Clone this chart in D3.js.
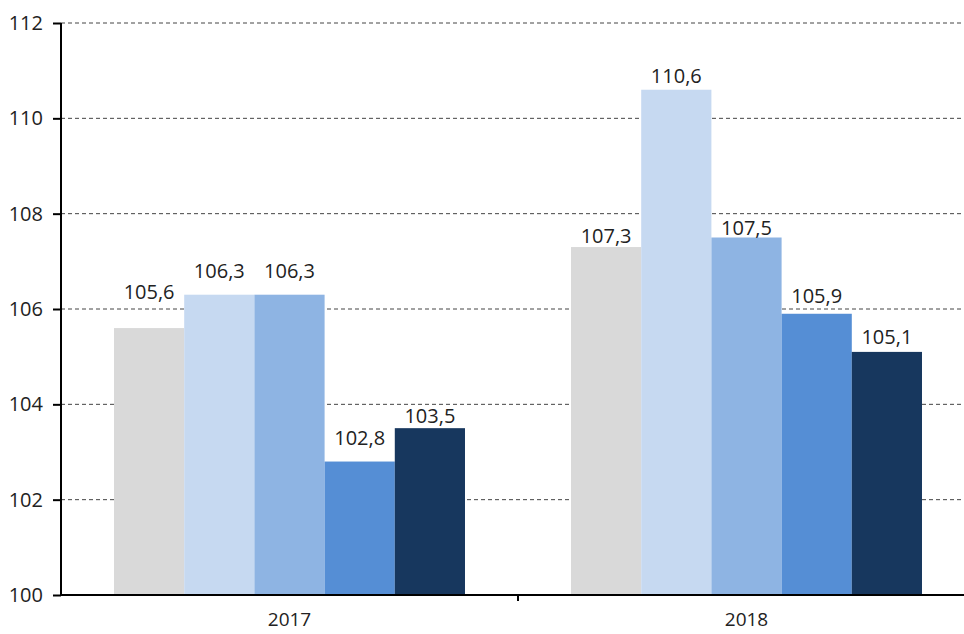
<!DOCTYPE html>
<html>
<head>
<meta charset="utf-8">
<script src="https://cdn.jsdelivr.net/npm/d3@7"></script>
<style>
  body { margin: 0; background: #fff; }
  text { font-family: "Open Sans", sans-serif; fill: #222; }
</style>
</head>
<body>
<div id="chart"></div>
<script>
const width = 964;
const height = 634;
const margin = { top: 23, right: -11, bottom: 39, left: 61 };

const years = ["2017", "2018"];
const series = ["s1", "s2", "s3", "s4", "s5"];
const values2017 = [105.6, 106.3, 106.3, 102.8, 103.5];
const values2018 = [107.3, 110.6, 107.5, 105.9, 105.1];
const yTicks = [100, 102, 104, 106, 108, 110, 112];
const colors = ["#d9d9d9", "#c6d9f1", "#8eb4e3", "#558ed5", "#17375e"];

// gap between bar top and label baseline, the labels were placed by hand
const labelGap = [
    [29, 17, 17, 17, 5],
    [4, 7, 3, 11, 8]
];

const rows = years.map((y, i) => ({ year: y, values: [values2017, values2018][i] }));

const innerW = width - margin.left - margin.right;
const innerH = height - margin.top - margin.bottom;

const svg = d3.select("#chart")
    .append("svg")
    .attr("width", width)
    .attr("height", height)
    .append("g")
    .attr("transform", `translate(${margin.left},${margin.top})`);

const x0 = d3.scaleBand()
    .domain(years)
    .range([0, innerW])
    .paddingInner(0.232)
    .paddingOuter(0.116);

const x1 = d3.scaleBand()
    .domain(series)
    .range([0, x0.bandwidth()]);

const y = d3.scaleLinear()
    .domain([100, 112])
    .range([innerH, 0]);

// dashed grid
svg.selectAll(".grid")
    .data(yTicks.slice(1))
    .enter().append("line")
    .attr("class", "grid")
    .attr("x1", 0)
    .attr("x2", innerW)
    .attr("y1", d => y(d))
    .attr("y2", d => y(d))
    .attr("stroke", "#444")
    .attr("stroke-width", 1)
    .attr("stroke-dasharray", "4 3");

const groups = svg.selectAll(".year")
    .data(rows)
    .enter().append("g")
    .attr("class", "year")
    .attr("transform", d => `translate(${x0(d.year)},0)`);

groups.selectAll("rect")
    .data(d => d.values.map((v, i) => ({ key: series[i], value: v, i })))
    .enter().append("rect")
    .attr("x", d => x1(d.key))
    .attr("y", d => y(d.value))
    .attr("width", x1.bandwidth())
    .attr("height", d => innerH - y(d.value))
    .attr("fill", d => colors[d.i]);

groups.each(function(row, gi) {
    d3.select(this).selectAll(".lbl")
        .data(row.values)
        .enter().append("text")
        .attr("class", "lbl")
        .attr("x", (v, i) => x1(series[i]) + x1.bandwidth() / 2)
        .attr("y", (v, i) => y(v) - labelGap[gi][i])
        .attr("text-anchor", "middle")
        .attr("font-size", 20)
        .text(v => d3.format(".1f")(v).replace(".", ","));
});

// y axis
const yAxis = d3.axisLeft(y)
    .tickValues(yTicks)
    .tickSize(8)
    .tickPadding(10)
    .tickFormat(d3.format("d"));

const yg = svg.append("g").call(yAxis);
yg.select(".domain").attr("stroke", "#000").attr("stroke-width", 2).attr("d", `M0,${innerH}V0`);
yg.selectAll(".tick line").attr("stroke", "#000").attr("stroke-width", 2);
yg.selectAll(".tick text").attr("font-size", 20).attr("fill", "#222")
    .attr("font-family", "Open Sans, sans-serif");

// x axis: labels centered, ticks between categories
const xAxis = d3.axisBottom(x0).tickSize(0).tickPadding(18);
const xg = svg.append("g")
    .attr("transform", `translate(0,${innerH})`)
    .call(xAxis);
xg.select(".domain").attr("stroke", "#000").attr("stroke-width", 2).attr("d", `M0,0H${innerW}`);
xg.selectAll(".tick text").attr("font-size", 19).attr("fill", "#222")
    .attr("font-family", "Open Sans, sans-serif");

xg.selectAll(".sep")
    .data(years.slice(1))
    .enter().append("line")
    .attr("class", "sep")
    .attr("x1", d => x0(d) - x0.step() * x0.paddingInner() / 2)
    .attr("x2", d => x0(d) - x0.step() * x0.paddingInner() / 2)
    .attr("y1", 0)
    .attr("y2", 6)
    .attr("stroke", "#000")
    .attr("stroke-width", 2);
</script>
</body>
</html>
